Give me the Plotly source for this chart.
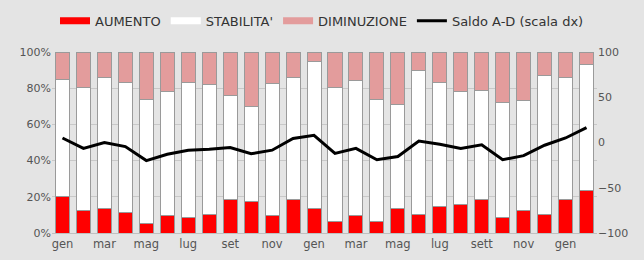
import plotly.graph_objects as go

months = ["gen","feb","mar","apr","mag","giu","lug","ago","set","ott","nov","dic",
          "gen","feb","mar","apr","mag","giu","lug","ago","sett","ott","nov","dic",
          "gen","feb"]
aumento = [20, 12.5, 13.5, 11.5, 5.5, 9.5, 8.5, 10.5, 18.5, 17.5, 9.5, 18.5, 13.5,
           6.5, 9.5, 6.5, 13.5, 10.5, 14.5, 15.5, 18.5, 8.5, 12.5, 10.5, 18.5, 23.5]
stab_top = [85, 80.5, 86, 83, 74, 78, 83, 82, 76, 70, 82.5, 86, 95,
            80.5, 84, 74, 71, 90, 83, 78, 79, 72, 73, 87, 86, 93]
saldo = [5, -6.5, 0, -4.5, -20, -13, -8.5, -7.5, -5.5, -12.5, -8.5, 4.5, 8,
         -12, -6.5, -19, -15.5, 1.5, -2, -6.5, -2.5, -19, -14.5, -3, 5, 16.5]
tick_idx = list(range(0, 26, 2))

stabilita = [s - a for s, a in zip(stab_top, aumento)]
diminuzione = [100 - s for s in stab_top]
x = list(range(len(months)))

series = [("AUMENTO", aumento, "#ff0000"),
          ("STABILITA'", stabilita, "#ffffff"),
          ("DIMINUZIONE", diminuzione, "#e39c9c")]

font = "'DejaVu Sans', sans-serif"
line_col = "#9a9a9a"
fig = go.Figure()
for name, vals, col in series:
    fig.add_bar(x=x, y=vals, name=name, showlegend=False, legendgroup=name,
                marker=dict(color=col, line=dict(color=line_col, width=1)))
# legend swatches (wide rectangles like the original)
for name, vals, col in series:
    fig.add_scatter(x=[None], y=[None], name=name, legendgroup=name, mode="lines",
                    line=dict(color=col, width=7))
fig.add_scatter(x=x, y=saldo, name="Saldo A-D (scala dx)", yaxis="y2", mode="lines",
                line=dict(color="#000000", width=3))

fig.update_layout(
    width=644, height=260,
    barmode="stack", bargap=0.33,
    paper_bgcolor="#e4e4e4", plot_bgcolor="#e4e4e4",
    margin=dict(l=52, r=47, t=52, b=27, autoexpand=False),
    font=dict(family=font, size=11, color="#555555"),
    legend=dict(orientation="h", x=0.5, xanchor="center", xref="container",
                y=0.92, yanchor="middle", yref="container",
                font=dict(size=13, color="#333333"), itemwidth=30, tracegroupgap=0,
                traceorder="normal", bgcolor="rgba(0,0,0,0)"),
    xaxis=dict(tickmode="array", tickvals=[x[i] for i in tick_idx],
               ticktext=[months[i] for i in tick_idx], showgrid=False,
               range=[-0.5, len(x) - 0.5], showline=True, linecolor="#c0c0c0",
               ticks="", tickfont=dict(size=11.5, color="#555555")),
    yaxis=dict(range=[0, 100], tickvals=[0, 20, 40, 60, 80, 100],
               ticktext=["0%", "20%", "40%", "60%", "80%", "100%"],
               showgrid=True, gridcolor="#c8c8c8", gridwidth=1, zeroline=False,
               ticks="", tickfont=dict(size=11, color="#555555")),
    yaxis2=dict(range=[-100, 100], tickvals=[-100, -50, 0, 50, 100], overlaying="y",
                side="right", showgrid=False, zeroline=False, ticks="",
                tickfont=dict(size=11, color="#555555")),
)
fig.write_html("out.html", config={"displayModeBar": False},
               post_script="document.body.style.margin='0';document.body.style.background='#e4e4e4';")
